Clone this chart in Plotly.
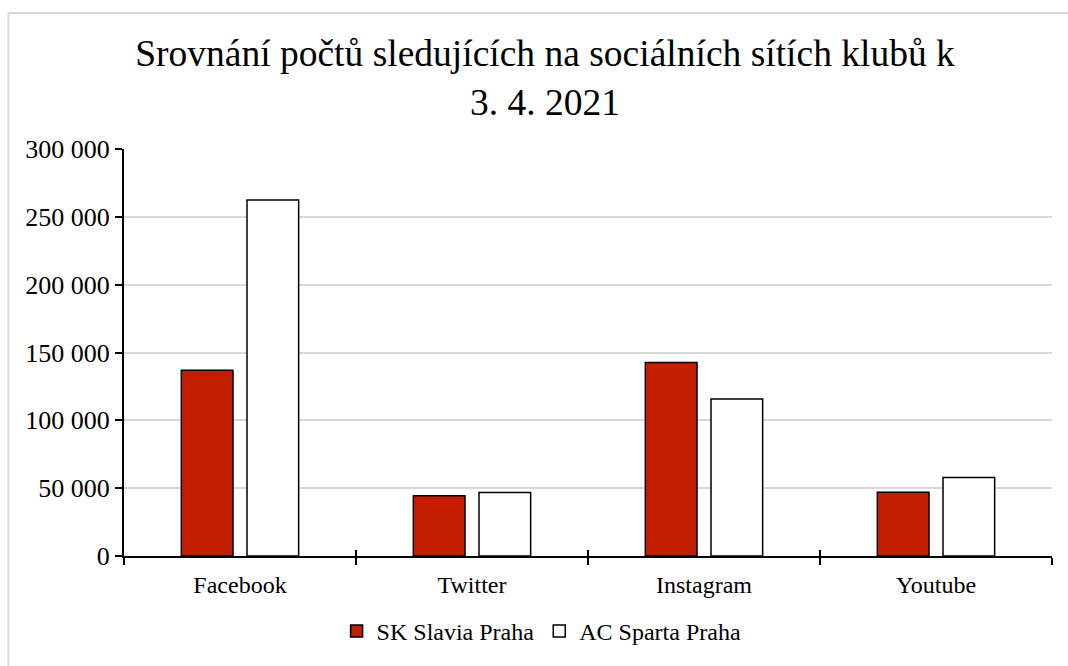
import plotly.graph_objects as go

categories = ["Facebook", "Twitter", "Instagram", "Youtube"]
slavia = [137000, 44500, 142700, 47000]
sparta = [262400, 46800, 115700, 57800]
series_names = ["SK Slavia Praha", "AC Sparta Praha"]
y_ticks = [0, 50000, 100000, 150000, 200000, 250000, 300000]

FONT = "Liberation Serif"
RED = "#C41E00"

fig = go.Figure()
fig.add_trace(go.Bar(x=categories, y=slavia, name=series_names[0],
                     marker=dict(color=RED, line=dict(color="black", width=1.5))))
fig.add_trace(go.Bar(x=categories, y=sparta, name=series_names[1],
                     marker=dict(color="white", line=dict(color="black", width=1.5))))
# helper trace for inside tick marks (crossing ticks)
fig.add_trace(go.Scatter(x=categories, y=[0] * len(categories), xaxis="x2", mode="markers",
                         marker=dict(opacity=0), showlegend=False, hoverinfo="skip"))

W, H = 1068, 666
L, R, T, B = 124, 16, 149, 110
pw, ph = W - L - R, H - T - B

fig.update_layout(
    width=W, height=H,
    margin=dict(l=L, r=R, t=T, b=B),
    paper_bgcolor="white", plot_bgcolor="white",
    separators=", ",
    font=dict(family=FONT, size=24, color="black"),
    title=dict(text="Srovnání počtů sledujících na sociálních sítích klubů k<br>3. 4. 2021",
               x=545 / W, xanchor="center", xref="container",
               y=1 - 66 / H, yanchor="top", yref="container",
               font=dict(family=FONT, size=37.5, color="black")),
    barmode="group", bargap=0.434, bargroupgap=0.213,
    showlegend=True,
    legend=dict(orientation="h", x=0.45, xanchor="center", y=-0.13, yanchor="top",
                font=dict(family=FONT, size=24), itemwidth=30, traceorder="normal"),
    xaxis=dict(type="category", categoryorder="array", categoryarray=categories,
               range=[-0.5, 3.5], tickson="boundaries", ticks="outside", ticklen=7,
               tickwidth=2, tickcolor="black", showline=True, linecolor="black",
               linewidth=2, showgrid=False, tickfont=dict(family=FONT, size=24),
               ticklabelstandoff=6),
    xaxis2=dict(type="category", categoryorder="array", categoryarray=categories,
                range=[-0.5, 3.5], overlaying="x", anchor="y", side="bottom",
                tickson="boundaries", ticks="inside", ticklen=6, tickwidth=2,
                tickcolor="black", showticklabels=False, showline=False, showgrid=False),
    yaxis=dict(range=[0, 300000], tickvals=y_ticks, tickformat=",d", ticks="outside",
               ticklen=7, tickwidth=2, tickcolor="black", showline=True, linecolor="black",
               linewidth=2, showgrid=True, gridcolor="#D9D9D9", gridwidth=2,
               zeroline=False, tickfont=dict(family=FONT, size=26)),
    shapes=[dict(type="rect", xref="paper", yref="paper",
                 x0=(8.5 - L) / pw, x1=(W + 20 - L) / pw,
                 y0=-(H + 20 - (H - B)) / ph, y1=((H - B) - 13) / ph,
                 line=dict(color="#D9D9D9", width=2), layer="below")],
)

fig.write_html("out.html")
